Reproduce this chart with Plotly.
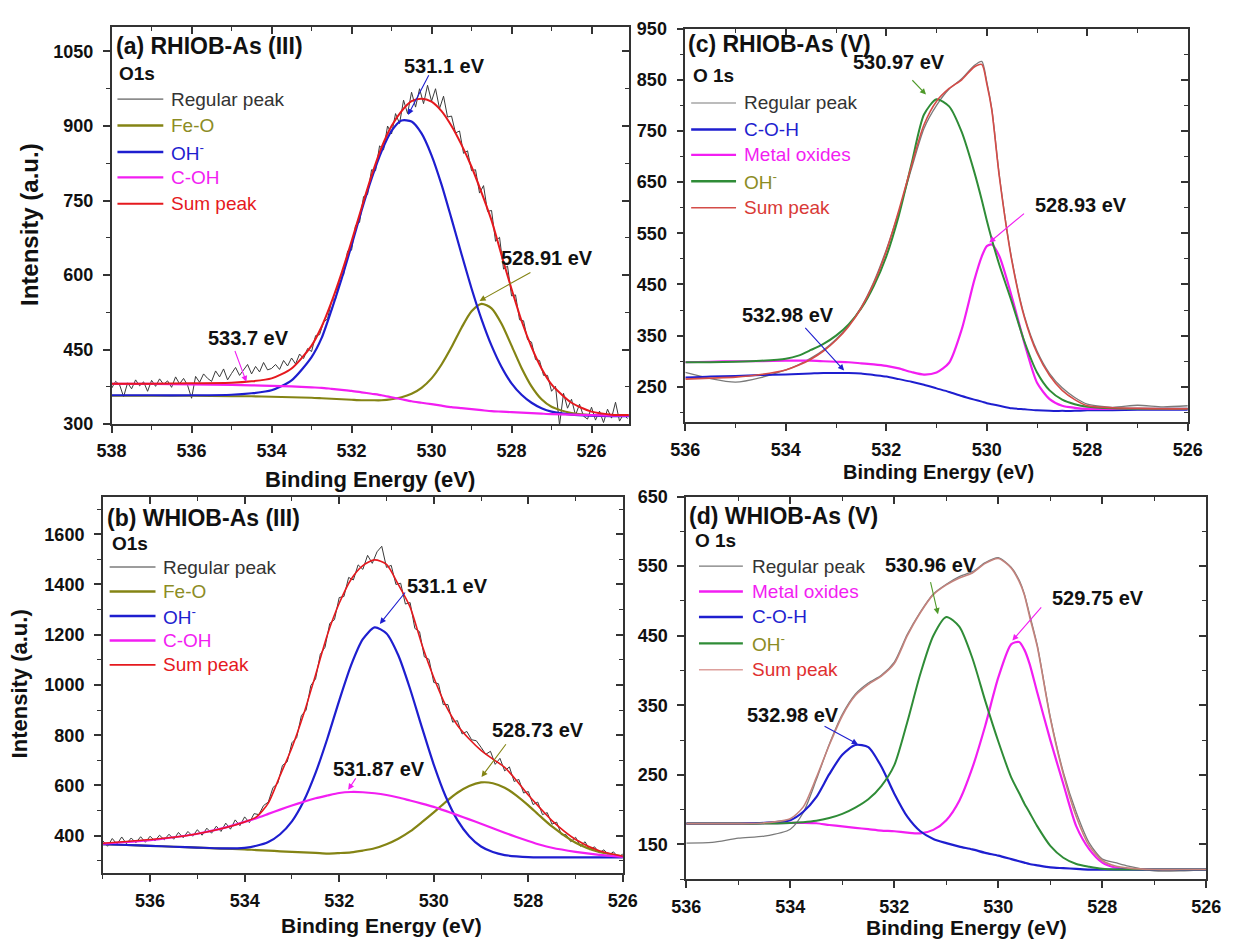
import plotly.graph_objects as go

W, H = 1235, 949
FONT = "Liberation Sans, Arial, Helvetica, sans-serif"
AX = "#333333"

# ---------------- colours ----------------
C_RAW = "#3a3a3a"
C_RAW2 = "#7a7a7a"
C_OLIVE = "#848414"
C_OLIVE_T = "#8c8c24"
C_BLUE = "#1e1ecf"
C_MAG = "#f21ef2"
C_RED = "#e5191e"
C_GREEN = "#2f8c37"
C_SUM_C = "#d44c48"
C_SUM_D = "#c4827c"

# ---------------- panel (a) RHIOB-As (III) ----------------
A_RAW_START = 538.0
A_RAW = [372, 386, 379, 355, 383, 371, 389, 377, 385, 366, 388,
         376, 391, 380, 387, 374, 395, 381, 392, 378, 352,
         396, 384, 401, 392, 386, 407, 395, 411, 389, 402,
         414, 398, 408, 420, 401, 416, 405, 424, 409, 412,
         420, 410, 428, 417, 433, 421, 441, 432, 452, 446,
         478, 480, 505, 512, 548, 552, 592, 600, 648, 650,
         700, 706, 758, 762, 812, 810, 860, 852, 900, 884,
         925, 905, 952, 925, 968, 938, 975, 945, 982, 950,
         975, 935, 960, 918, 920, 886, 890, 845, 850, 810,
         812, 765, 780, 728, 730, 668, 676, 612, 618, 558,
         560, 510, 508, 470, 465, 430, 428, 398, 398, 366,
         376, 298, 362, 332, 350, 318, 340, 316, 310, 334,
         308, 326, 303, 330, 312, 344, 306, 320, 311]
A_X = [538, 537, 536, 535, 534.5, 534, 533.5, 533, 532.75, 532.5, 532.25, 532,
       531.75, 531.5, 531.25, 531, 530.75, 530.5, 530.25, 530, 529.75, 529.5,
       529.25, 529, 528.75, 528.5, 528.25, 528, 527.75, 527.5, 527.25, 527,
       526.5, 526, 525.5, 525]
A_FEO = [357, 357, 357, 356, 356, 355, 354, 353, 352, 351, 350, 349,
         348, 348, 348, 350, 354, 361, 373, 392, 420, 455,
         494, 527, 542, 533, 502, 458, 413, 376, 350, 335,
         322, 318, 317, 317]
A_OH = [358, 358, 358, 359, 362, 368, 388, 435, 473, 530, 592, 660,
        730, 794, 849, 890, 911, 909, 885, 841, 782, 713,
        642, 573, 511, 458, 415, 382, 359, 343, 332, 325,
        319, 317, 316, 316]
A_COH = [381, 381, 380, 379, 378, 377, 376, 374, 373, 371, 369, 367,
         364, 361, 358, 354, 350, 346, 343, 340, 337, 334,
         332, 330, 328, 326, 325, 324, 323, 322, 321, 320,
         319, 318, 317, 317]
A_SUM = [381, 381, 382, 383, 386, 392, 412, 458, 496, 546, 604, 668,
         735, 800, 857, 900, 930, 950, 955, 949, 930, 900,
         862, 818, 766, 710, 640, 572, 508, 455, 412, 380,
         343, 325, 319, 318]

# ---------------- panel (b) WHIOB-As (III) ----------------
B_RAW_START = 537.0
B_RAW = [380,
         358, 389, 366, 395, 368, 391, 372, 396, 374, 398,
         379, 402, 384, 406, 386, 413, 392, 417, 398, 424,
         402, 430, 410, 438, 417, 450, 426, 463, 440, 475,
         452, 488, 484, 520, 534, 592, 608, 680, 694, 770,
         790, 878, 900, 998, 1024, 1122, 1150, 1245, 1260, 1348,
         1352, 1428, 1418, 1478, 1460, 1516, 1484, 1530, 1552, 1468,
         1476, 1400, 1405, 1322, 1328, 1225, 1212, 1112, 1102, 1010,
         1005, 922, 922, 852, 858, 805, 815, 782, 778, 752,
         724, 736, 684, 708, 658, 674, 616, 624, 570, 576,
         524, 534, 484, 492, 446, 454, 404, 404, 376, 394,
         358, 376, 344, 356, 332, 344, 322, 336, 315, 327]
B_X = [537, 536.5, 536, 535.5, 535, 534.5, 534, 533.75, 533.5, 533.25, 533,
       532.75, 532.5, 532.25, 532, 531.75, 531.5, 531.25, 531, 530.75, 530.5,
       530.25, 530, 529.75, 529.5, 529.25, 529, 528.75, 528.5, 528.25, 528,
       527.75, 527.5, 527, 526.5, 526]
B_FEO = [366, 363, 360, 356, 353, 349, 346, 343, 341, 338, 336,
         334, 332, 329, 331, 334, 341, 350, 366, 388, 417,
         454, 493, 534, 571, 598, 612, 609, 591, 560, 521,
         478, 437, 372, 335, 318]
B_OH = [366, 363, 360, 356, 353, 350, 352, 360, 375, 406, 457,
        538, 650, 787, 938, 1078, 1182, 1229, 1205, 1118, 984,
        831, 683, 557, 462, 398, 357, 335, 323, 318, 315,
        314, 314, 314, 314, 314]
B_COH = [368, 375, 382, 394, 408, 428, 455, 470, 487, 504, 520,
         535, 549, 560, 570, 574, 573, 569, 562, 552, 540,
         528, 515, 499, 482, 465, 448, 430, 412, 395, 379,
         364, 352, 336, 324, 316]
B_SUM = [370, 377, 385, 394, 408, 428, 455, 475, 530, 640, 750,
         885, 1040, 1200, 1325, 1420, 1475, 1498, 1480, 1400, 1310,
         1160, 1030, 920, 840, 785, 740, 705, 672, 620, 562,
         510, 460, 385, 340, 318]

# ---------------- panel (c) RHIOB-As (V) ----------------
C_X = [536, 535.5, 535, 534.5, 534, 533.75, 533.5, 533.25, 533, 532.75,
       532.5, 532.25, 532, 531.75, 531.5, 531.25, 531, 530.75, 530.5, 530.25,
       530.1, 530, 529.9, 529.75, 529.5, 529.25, 529, 528.75, 528.5, 528.25,
       528, 527.5, 527, 526.5, 526]
C_RAWV = [278, 266, 259, 268, 283, 293, 306, 322, 343, 370,
          406, 455, 518, 592, 676, 755, 800, 832, 852, 878,
          886, 846, 793, 663, 498, 388, 320, 276, 248, 229,
          216, 210, 214, 211, 213]
C_COH = [268, 270, 271, 273, 274, 275, 276, 277, 277, 277,
         276, 273, 270, 265, 260, 254, 247, 240, 232, 225,
         221, 218, 216, 213, 208, 206, 204, 203, 203, 203,
         204, 204, 205, 205, 205]
C_MET = [298, 299, 300, 300, 301, 301, 301, 300, 299, 298,
         296, 294, 291, 286, 279, 274, 278, 297, 362, 458,
         505, 525, 528, 505, 425, 335, 258, 226, 213, 209,
         207, 207, 207, 207, 207]
C_OH = [298, 298, 299, 301, 305, 311, 322, 334, 350, 372,
        403, 447, 505, 585, 685, 782, 812, 798, 748, 670,
        615, 575, 538, 488, 415, 338, 278, 243, 225, 216,
        211, 208, 207, 207, 207]
C_SUM = [265, 267, 269, 274, 283, 292, 304, 320, 341, 368,
         404, 452, 515, 595, 682, 762, 808, 833, 850, 875,
         880, 842, 790, 660, 495, 385, 316, 272, 243, 225,
         213, 209, 208, 207, 207]

# ---------------- panel (d) WHIOB-As (V) ----------------
D_X = [536, 535.5, 535, 534.5, 534, 533.75, 533.5, 533.25, 533, 532.75,
       532.5, 532.25, 532, 531.75, 531.5, 531.25, 531, 530.75, 530.5, 530.25,
       530, 529.75, 529.6, 529.5, 529.4, 529.25, 529, 528.75, 528.5, 528.25,
       528, 527.75, 527.5, 527, 526.5, 526]
D_RAWV = [152, 153, 159, 162, 172, 196, 243, 294, 337, 366,
          382, 393, 412, 452, 484, 510, 524, 535, 542, 555,
          562, 548, 530, 510, 481, 436, 333, 254, 196, 152,
          129, 124, 119, 112, 112, 114]
D_MET = [180, 180, 180, 180.5, 181, 181, 180.5, 178, 176, 174,
         172, 170, 169, 167, 166, 171, 185, 213, 260, 321,
         390, 438, 441, 430, 410, 368, 300, 237, 176, 143,
         124, 117, 115, 114, 114, 114]
D_COH = [180, 180, 180, 181, 185, 197, 218, 251, 279, 293,
         290, 262, 223, 190, 169, 158, 152, 147, 143, 138,
         134, 129, 126, 124, 122, 120, 117, 116, 115, 114,
         114, 114, 114, 114, 114, 114]
D_OH = [180, 180, 180, 180, 181, 182, 184, 188, 194, 203,
        215, 234, 264, 326, 395, 450, 477, 463, 418, 356,
        298, 246, 224, 209, 196, 176, 148, 131, 122, 118,
        115, 114, 114, 114, 114, 114]
D_SUM = [180, 180, 180, 181, 187, 204, 246, 293, 335, 364,
         380, 392, 410, 450, 483, 509, 523, 533, 540, 554,
         561, 547, 528, 509, 478, 434, 331, 251, 190, 148,
         127, 119, 116, 114, 114, 114]

# ---------------- axis ranges ----------------
A_YRANGE = [300, 1100]
B_YRANGE = [250, 1750]
C_YRANGE = [181, 950]
D_YRANGE = [100, 650]


def px(x):
    return x / W


def py(y):
    return 1 - y / H


def raw_x(start, n):
    return [round(start - 0.1 * i, 1) for i in range(n)]


fig = go.Figure()


def add_line(x, y, color, width, xa, ya, spline=True):
    fig.add_trace(go.Scatter(
        x=x, y=y, mode="lines",
        line=dict(color=color, width=width,
                  shape="spline" if spline else "linear",
                  smoothing=0.7 if spline else None),
        xaxis=xa, yaxis=ya, showlegend=False, hoverinfo="skip"))


# panel a
add_line(raw_x(A_RAW_START, len(A_RAW)), A_RAW, C_RAW, 1, "x", "y", False)
add_line(A_X, A_FEO, C_OLIVE, 2.2, "x", "y")
add_line(A_X, A_OH, C_BLUE, 2.2, "x", "y")
add_line(A_X, A_COH, C_MAG, 2.2, "x", "y")
add_line(A_X, A_SUM, C_RED, 2, "x", "y")
# panel c
add_line(C_X, C_RAWV, C_RAW2, 1.3, "x2", "y2")
add_line(C_X, C_COH, C_BLUE, 2, "x2", "y2")
add_line(C_X, C_MET, C_MAG, 2.2, "x2", "y2")
add_line(C_X, C_OH, C_GREEN, 2, "x2", "y2")
add_line(C_X, C_SUM, C_SUM_C, 1.6, "x2", "y2")
# panel b
add_line(raw_x(B_RAW_START, len(B_RAW)), B_RAW, C_RAW, 1, "x3", "y3", False)
add_line(B_X, B_FEO, C_OLIVE, 2.2, "x3", "y3")
add_line(B_X, B_OH, C_BLUE, 2.2, "x3", "y3")
add_line(B_X, B_COH, C_MAG, 2.2, "x3", "y3")
add_line(B_X, B_SUM, C_RED, 1.6, "x3", "y3")
# panel d
add_line(D_X, D_RAWV, C_RAW2, 1.3, "x4", "y4")
add_line(D_X, D_MET, C_MAG, 2.2, "x4", "y4")
add_line(D_X, D_COH, C_BLUE, 2.2, "x4", "y4")
add_line(D_X, D_OH, C_GREEN, 2, "x4", "y4")
add_line(D_X, D_SUM, C_SUM_D, 1.6, "x4", "y4")

TICKFONT = dict(family=FONT, size=18, color="#111111", weight="bold")

panels = [
    # id, xdom px, ydom px, xrange, yrange, ydtick, ytick0, yminor
    ("", [99, 629], [17, 423], [538, 525.07], A_YRANGE, 150, 0, 75),
    ("2", [687, 1202], [19, 421], [536, 526], C_YRANGE, 100, 50, 50),
    ("3", [90, 623], [497, 882], [537, 526], B_YRANGE, 200, 0, 100),
    ("4", [688, 1221], [497, 888], [536, 526], D_YRANGE, 100, 50, 50),
]

lay = {}
for k, (pid, xd, yd, xr, yr, ydt, yt0, ymn) in enumerate(panels):
    ov = str(5 + k)
    xdom = [px(xd[0]), px(xd[1])]
    ydom = [py(yd[1]), py(yd[0])]
    lay["xaxis" + pid] = dict(
        domain=xdom, range=xr, anchor="y" + pid, dtick=2, tick0=0,
        showline=True, linecolor=AX, linewidth=1.6, mirror=True,
        ticks="outside", ticklen=7, tickwidth=1.5, tickcolor=AX,
        ticklabelstandoff=3,
        minor=dict(dtick=1, tick0=0, ticks="outside", ticklen=4, tickwidth=1.2,
                   tickcolor=AX, showgrid=False),
        showgrid=False, zeroline=False, tickfont=TICKFONT, fixedrange=True)
    lay["yaxis" + pid] = dict(
        domain=ydom, range=yr, anchor="x" + pid, dtick=ydt, tick0=yt0,
        showline=True, linecolor=AX, linewidth=1.6, mirror=True,
        ticks="outside", ticklen=7, tickwidth=1.5, tickcolor=AX,
        ticklabelstandoff=6,
        minor=dict(dtick=ymn, tick0=yt0, ticks="outside", ticklen=4, tickwidth=1.2,
                   tickcolor=AX, showgrid=False),
        showgrid=False, zeroline=False, tickfont=TICKFONT, fixedrange=True)
    # inside ticks on top / right
    lay["xaxis" + ov] = dict(
        overlaying="x" + pid, anchor="y" + pid, side="top", range=xr,
        dtick=2, tick0=0, ticks="inside", ticklen=7, tickwidth=1.5, tickcolor=AX,
        minor=dict(dtick=1, tick0=0, ticks="inside", ticklen=4, tickwidth=1.2,
                   tickcolor=AX),
        showticklabels=False, showline=False, showgrid=False, zeroline=False,
        fixedrange=True)
    lay["yaxis" + ov] = dict(
        overlaying="y" + pid, anchor="x" + pid, side="right", range=yr,
        dtick=ydt, tick0=yt0, ticks="inside", ticklen=7, tickwidth=1.5, tickcolor=AX,
        minor=dict(dtick=ymn, tick0=yt0, ticks="inside", ticklen=4, tickwidth=1.2,
                   tickcolor=AX),
        showticklabels=False, showline=False, showgrid=False, zeroline=False,
        fixedrange=True)
    fig.add_trace(go.Scatter(x=[], y=[], xaxis="x" + ov, yaxis="y" + ov,
                             showlegend=False, hoverinfo="skip"))

fig.update_layout(**lay)

ann = []
shapes = []


def text(x, y, s, size, color="#111111", bold=False, anchor="left", angle=0):
    ann.append(dict(
        x=px(x), y=py(y), xref="paper", yref="paper",
        text=("<b>%s</b>" % s) if bold else s, showarrow=False,
        xanchor=anchor, yanchor="middle", textangle=angle,
        font=dict(family=FONT, size=size, color=color)))


# panel labels
text(101, 37, "(a) RHIOB-As (III)", 23, bold=True)
text(105, 65, "O1s", 19, bold=True)
text(92, 519, "(b) WHIOB-As (III)", 23, bold=True)
text(97, 545, "O1s", 19, bold=True)
text(688, 35, "(c) RHIOB-As (V)", 23, bold=True)
text(693, 67, "O 1s", 19, bold=True)
text(689, 517, "(d) WHIOB-As (V)", 23, bold=True)
text(695, 542, "O 1s", 19, bold=True)

# axis titles
text(15, 219, "Intensity (a.u.)", 24, bold=True, anchor="center", angle=-90)
text(5, 688, "Intensity (a.u.)", 22, bold=True, anchor="center", angle=-90)
text(364, 480, "Binding Energy (eV)", 22, bold=True, anchor="center")
text(376, 935, "Binding Energy (eV)", 21, bold=True, anchor="center")
text(947, 472, "Binding Energy (eV)", 20, bold=True, anchor="center")
text(975, 937, "Binding Energy (eV)", 21, bold=True, anchor="center")

# legends (drawn manually)
OH_TXT = "OH<sup>-</sup>"
legends = [
    (105, 152, 158, [91, 118, 145, 171, 198],
     [("Regular peak", C_RAW, "#333333", 1.0), ("Fe-O", C_OLIVE, C_OLIVE_T, 2.4),
      (OH_TXT, C_BLUE, C_BLUE, 2.4), ("C-OH", C_MAG, C_MAG, 2.4),
      ("Sum peak", C_RED, C_RED, 2.0)]),
    (97, 144, 150, [569, 594, 619, 644, 669],
     [("Regular peak", C_RAW, "#333333", 1.0), ("Fe-O", C_OLIVE, C_OLIVE_T, 2.4),
      (OH_TXT, C_BLUE, C_BLUE, 2.4), ("C-OH", C_MAG, C_MAG, 2.4),
      ("Sum peak", C_RED, C_RED, 1.6)]),
    (693, 739, 745, [95, 122, 148, 175, 202],
     [("Regular peak", C_RAW2, "#333333", 1.2), ("C-O-H", C_BLUE, C_BLUE, 2.4),
      ("Metal oxides", C_MAG, C_MAG, 2.4), (OH_TXT, C_GREEN, C_OLIVE_T, 2.4),
      ("Sum peak", C_SUM_C, "#d93a36", 1.6)]),
    (701, 746, 753, [568, 594, 620, 647, 674],
     [("Regular peak", C_RAW2, "#333333", 1.2), ("Metal oxides", C_MAG, C_MAG, 2.4),
      ("C-O-H", C_BLUE, C_BLUE, 2.4), (OH_TXT, C_GREEN, C_OLIVE_T, 2.4),
      ("Sum peak", "#dda09c", "#e03030", 1.6)]),
]
for x0, x1, xt, rows, items in legends:
    for yy, (lab, lc, tc, lw) in zip(rows, items):
        shapes.append(dict(type="line", xref="paper", yref="paper",
                           x0=px(x0), x1=px(x1), y0=py(yy), y1=py(yy),
                           line=dict(color=lc, width=lw)))
        text(xt, yy, lab, 19, color=tc)

# peak labels: (text, text px x, text px y, tail x, tail y, head x, head y, colour, axes)
PEAKS = [
    ("531.1 eV", 440, 57, 530.05, 1005, 530.59, 922, C_BLUE, ""),
    ("528.91 eV", 545, 253, 527.49, 607, 528.80, 548, C_OLIVE, ""),
    ("533.7 eV", 239, 335, 534.93, 450, 534.63, 385, C_MAG, ""),
    ("531.1 eV", 443, 588, 530.58, 1374, 531.14, 1243, C_BLUE, "3"),
    ("528.73 eV", 536, 736, 528.45, 770, 528.99, 634, C_OLIVE, "3"),
    ("531.87 eV", 373, 775, 531.63, 634, 531.81, 583, C_MAG, "3"),
    ("530.97 eV", 906, 53, 531.51, 852, 531.21, 821, "#4f9a2a", "2"),
    ("528.93 eV", 1093, 199, 529.23, 591, 529.95, 532, C_MAG, "2"),
    ("532.98 eV", 792, 312, 533.64, 368, 532.84, 282, C_BLUE, "2"),
    ("530.96 eV", 939, 567, 531.31, 529, 531.16, 481, "#4f9a2a", "4"),
    ("529.75 eV", 1110, 601, 529.15, 493, 529.73, 443, C_MAG, "4"),
    ("532.98 eV", 797, 720, 533.37, 321, 532.70, 294, C_BLUE, "4"),
]
for s, tx, ty, ax_, ay_, hx, hy, col, pid in PEAKS:
    text(tx, ty, s, 20, bold=True, anchor="center")
    ann.append(dict(x=hx, y=hy, ax=ax_, ay=ay_, xref="x" + pid, yref="y" + pid,
                    axref="x" + pid, ayref="y" + pid, text="", showarrow=True,
                    arrowhead=2, arrowsize=1.1, arrowwidth=1.1, arrowcolor=col,
                    standoff=0, startstandoff=0))

fig.update_layout(
    width=W, height=H, margin=dict(l=0, r=0, t=0, b=0),
    paper_bgcolor="white", plot_bgcolor="white",
    showlegend=False, annotations=ann, shapes=shapes,
    font=dict(family=FONT, color="#111111"))

fig.write_html("out.html")
